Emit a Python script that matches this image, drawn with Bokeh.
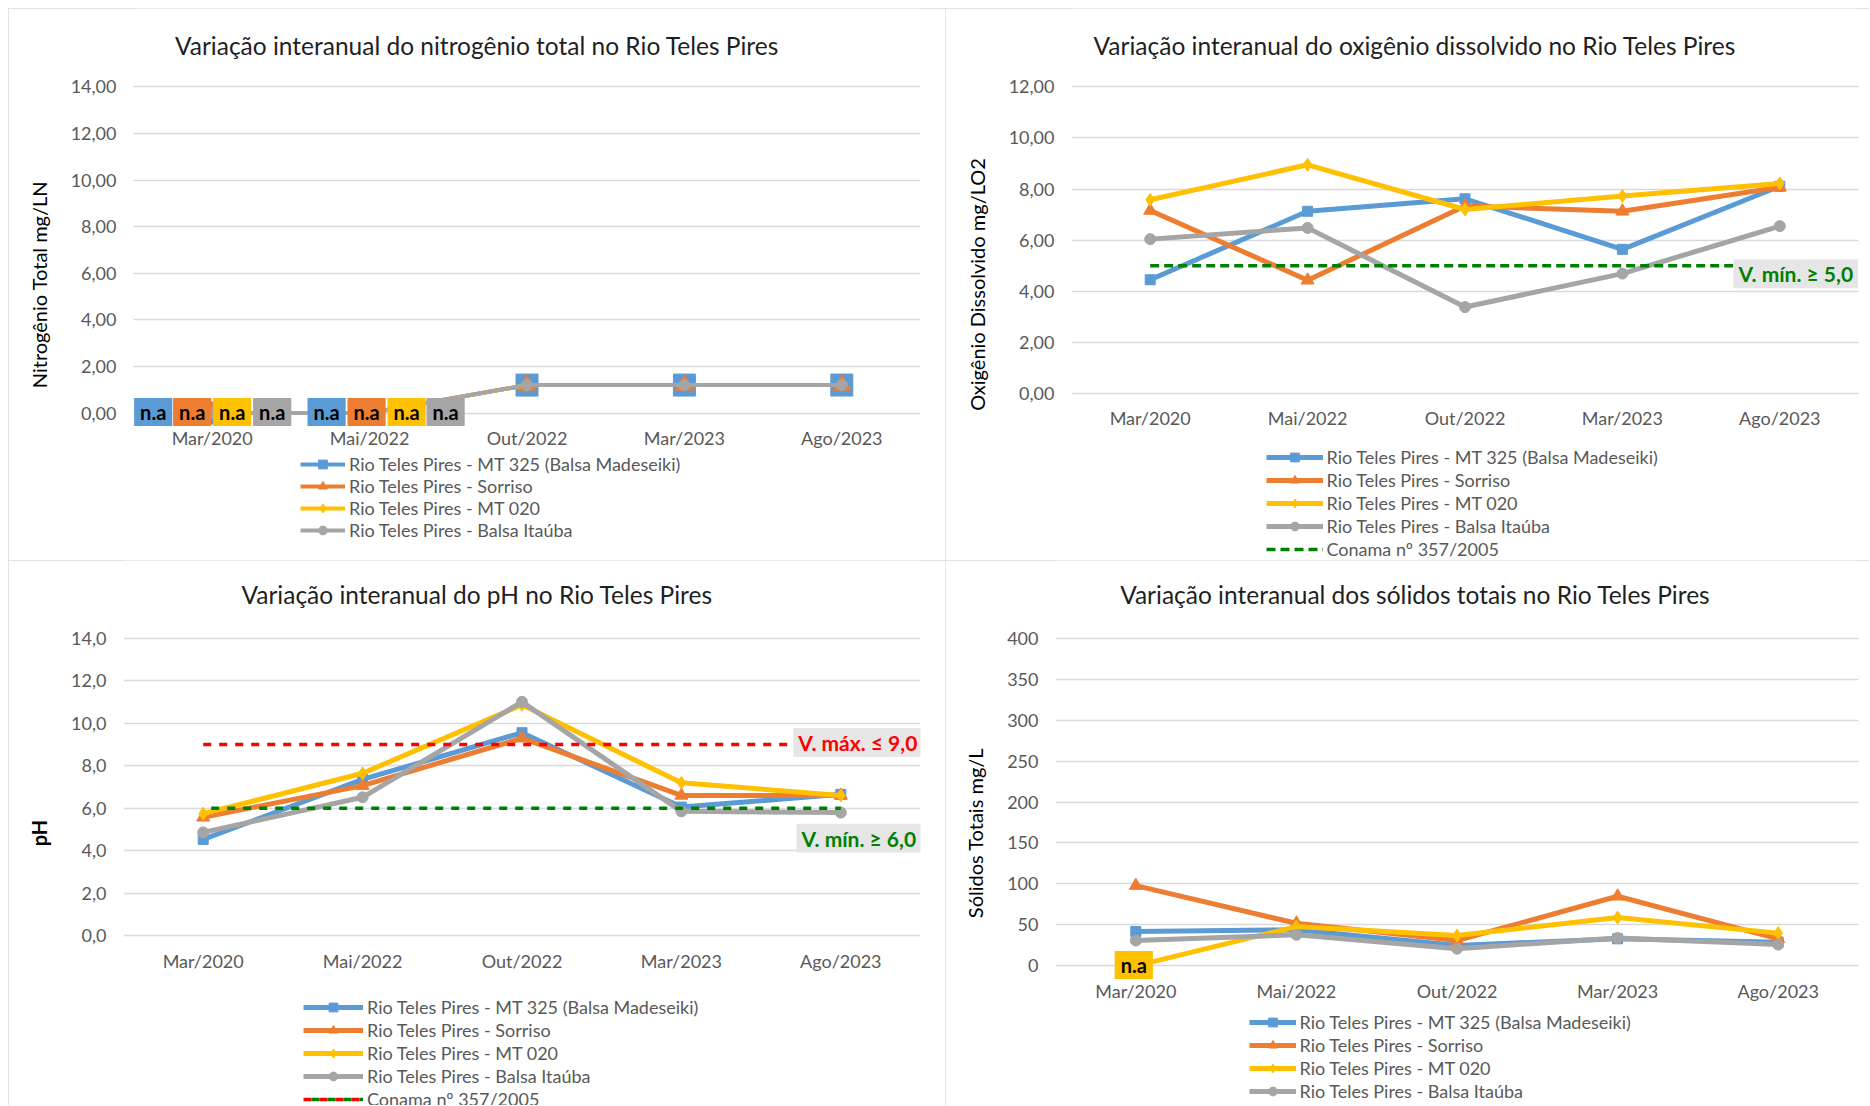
from bokeh.plotting import figure
from bokeh.models import FactorRange, Range1d, FixedTicker, Legend, LegendItem, Label
from bokeh.layouts import row, column
from bokeh.embed import file_html
from bokeh.resources import INLINE
from bokeh.core.properties import value

# ---------------- data ----------------
categories = ["Mar/2020", "Mai/2022", "Out/2022", "Mar/2023", "Ago/2023"]
series_names = [
    "Rio Teles Pires - MT 325 (Balsa Madeseiki)",
    "Rio Teles Pires - Sorriso",
    "Rio Teles Pires - MT 020",
    "Rio Teles Pires - Balsa Itaúba",
]
conama_name = "Conama nº 357/2005"

# Nitrogênio total (mg/L N) ; 0 where not analysed ("n.a")
nt_mt325 = [0.0, 0.0, 1.2, 1.2, 1.2]
nt_sorriso = [0.0, 0.0, 1.2, 1.2, 1.2]
nt_mt020 = [0.0, 0.0, 1.2, 1.2, 1.2]
nt_itauba = [0.0, 0.0, 1.2, 1.2, 1.2]
nt_na = [["Mar/2020", "Mai/2022"], ["Mar/2020", "Mai/2022"], ["Mar/2020", "Mai/2022"], ["Mar/2020", "Mai/2022"]]
nt_yticks = [0, 2, 4, 6, 8, 10, 12, 14]
nt_yticklabels = ["0,00", "2,00", "4,00", "6,00", "8,00", "10,00", "12,00", "14,00"]

# Oxigênio dissolvido (mg/L O2)
od_mt325 = [4.45, 7.13, 7.62, 5.64, 8.11]
od_sorriso = [7.16, 4.43, 7.34, 7.13, 8.07]
od_mt020 = [7.58, 8.95, 7.20, 7.73, 8.22]
od_itauba = [6.04, 6.48, 3.38, 4.69, 6.55]
od_conama = [5.0, 5.0, 5.0, 5.0, 5.0]
od_yticks = [0, 2, 4, 6, 8, 10, 12]
od_yticklabels = ["0,00", "2,00", "4,00", "6,00", "8,00", "10,00", "12,00"]

# pH
ph_mt325 = [4.53, 7.35, 9.55, 6.05, 6.65]
ph_sorriso = [5.57, 7.06, 9.29, 6.60, 6.60]
ph_mt020 = [5.74, 7.64, 10.86, 7.19, 6.60]
ph_itauba = [4.86, 6.51, 11.00, 5.85, 5.79]
ph_conama_max = [9.0, 9.0, 9.0, 9.0, 9.0]
ph_conama_min = [6.0, 6.0, 6.0, 6.0, 6.0]
ph_yticks = [0, 2, 4, 6, 8, 10, 12, 14]
ph_yticklabels = ["0,0", "2,0", "4,0", "6,0", "8,0", "10,0", "12,0", "14,0"]

# Sólidos totais (mg/L)
st_mt325 = [42, 44, 25, 33, 29]
st_sorriso = [98, 52, 31, 85, 33]
st_mt020 = [0, 48, 37, 59, 40]
st_itauba = [31, 38, 21, 34, 26]
st_na = [[], [], ["Mar/2020"], []]
st_yticks = [0, 50, 100, 150, 200, 250, 300, 350, 400]
st_yticklabels = ["0", "50", "100", "150", "200", "250", "300", "350", "400"]

# ---------------- style ----------------
FONT = "Lato"
COLORS = ["#5B9BD5", "#ED7D31", "#FFC000", "#A5A5A5"]
MARKERS = ["square", "triangle", "diamond", "circle"]
GRID = "#D9D9D9"
TXT = "#595959"
ROW_H = 22


class Chart:
    def __init__(self, fx, fy, w, h, fl, fr, ytop_px, yzero_px, ymax, yticks, yticklabels,
                 ytitle, ytitle_bold=False):
        self.fl, self.fr, self.yzero = fl, fr, yzero_px
        self.ppu = (yzero_px - ytop_px) / ymax
        self.catw = (fr - fl) / len(categories)
        self.fb = fy + h
        y0 = -(fy + h - yzero_px) / self.ppu
        y1 = (yzero_px - fy) / self.ppu
        p = figure(width=w, height=h, x_range=FactorRange(factors=categories),
                   y_range=Range1d(y0, y1), output_backend="svg",
                   toolbar_location=None, title=None, x_axis_location=None,
                   min_border=0, min_border_left=int(round(fl - fx)),
                   min_border_right=int(round(fx + w - fr)),
                   min_border_top=0, min_border_bottom=0)
        p.outline_line_color = None
        p.background_fill_color = "white"
        p.border_fill_color = "white"
        p.styles = {"outline": "1px solid #D9D9D9", "outline-offset": "-1px"}
        for g in p.xgrid:
            g.visible = False
        p.ygrid.grid_line_color = GRID
        p.ygrid.grid_line_width = 1.5
        p.yaxis.ticker = FixedTicker(ticks=yticks)
        p.ygrid.ticker = FixedTicker(ticks=yticks)
        p.yaxis.major_label_overrides = {t: l for t, l in zip(yticks, yticklabels)}
        ax = p.yaxis[0]
        ax.axis_line_color = None
        ax.major_tick_line_color = None
        ax.minor_tick_line_color = None
        ax.major_tick_out = 0
        ax.major_tick_in = 0
        ax.major_label_text_font = FONT
        ax.major_label_text_font_size = "18px"
        ax.major_label_text_color = TXT
        ax.major_label_standoff = 17
        ax.axis_label = ytitle
        ax.axis_label_text_font = FONT
        ax.axis_label_text_font_size = "20px"
        ax.axis_label_text_color = "#000000"
        ax.axis_label_text_font_style = "bold" if ytitle_bold else "normal"
        ax.axis_label_standoff = 17
        # category labels under the zero line
        p.text(x=categories, y=[0] * len(categories), text=categories, y_offset=25,
               text_align="center", text_baseline="middle", text_font=value(FONT),
               text_font_size=value("18px"), text_color=TXT)
        self.p = p

    def px_to_data(self, px, py):
        return (px - self.fl) / self.catw, (self.yzero - py) / self.ppu

    def title(self, text, cx, cy):
        x, y = self.px_to_data(cx, cy)
        self.p.add_layout(Label(x=x, y=y, text=text, text_font=FONT, text_font_size="24.5px",
                                text_color="#1F1F1F", text_align="center",
                                text_baseline="middle"))

    def series(self, data_list, line_w=5, msizes=(10, 13, 13, 11)):
        rends = []
        for vals, c, m, ms in zip(data_list, COLORS, MARKERS, msizes):
            lr = self.p.line(x=categories, y=vals, line_color=c, line_width=line_w)
            sr = self.p.scatter(x=categories, y=vals, marker=m, size=ms, fill_color=c, line_color=c)
            rends.append([lr, sr])
        return rends

    def legend(self, items, left, top, glyph_w, spacing):
        n = len(items)
        hh = n * ROW_H + (n - 1) * spacing
        leg = Legend(items=items, location=(left - self.fl, self.fb - (top + hh)),
                     orientation="vertical", glyph_width=glyph_w, glyph_height=ROW_H,
                     label_height=ROW_H, spacing=spacing, padding=0, margin=0,
                     border_line_color=None, background_fill_alpha=0,
                     label_text_font=FONT, label_text_font_size="18px",
                     label_text_color=TXT, label_standoff=4)
        self.p.add_layout(leg)

    def na(self, vals_list, na_list, offsets):
        for si, (vals, nas) in enumerate(zip(vals_list, na_list)):
            xs, ys, xo = [], [], []
            for cat in nas:
                i = categories.index(cat)
                xs.append(cat)
                ys.append(vals[i])
                xo.append(offsets[si][i])
            if xs:
                self.p.text(x=xs, y=ys, text=["n.a"] * len(xs), x_offset=xo, y_offset=-1,
                            text_align="center", text_baseline="middle",
                            text_font=value(FONT), text_font_style="bold",
                            text_font_size=value("20px"), text_color="#000000",
                            background_fill_color=COLORS[si], padding=(6, 2))

    def conama_label(self, yval, text, color, dx, dy):
        self.p.text(x=[categories[-1]], y=[yval], text=[text], x_offset=dx, y_offset=dy,
                    text_align="center", text_baseline="middle", text_font=value(FONT),
                    text_font_style="bold", text_font_size=value("21px"), text_color=color,
                    background_fill_color="#E7E6E6", padding=(5, 2))


# ---------------- chart 1: nitrogênio ----------------
c1 = Chart(8, 8, 937, 552, 133, 920, 86.4, 412.5, 14, nt_yticks, nt_yticklabels,
           "Nitrogênio Total mg/LN")
r1 = c1.series([nt_mt325, nt_sorriso, nt_mt020, nt_itauba], line_w=4, msizes=(22, 18, 12, 11))
c1.na([nt_mt325, nt_sorriso, nt_mt020, nt_itauba], nt_na,
      [[-59, -43, 0, 0, 0], [-20, -3, 0, 0, 0], [20, 37, 0, 0, 0], [60, 76, 0, 0, 0]])
c1.title("Variação interanual do nitrogênio total no Rio Teles Pires", 476.5, 45)
c1.legend([LegendItem(label=n, renderers=r) for n, r in zip(series_names, r1)], 300, 452.6, 45, 0)

# ---------------- chart 2: oxigênio ----------------
c2 = Chart(945, 8, 924, 552, 1070.5, 1858, 86.4, 392.9, 12, od_yticks, od_yticklabels,
           "Oxigênio Dissolvido mg/LO2")
r2 = c2.series([od_mt325, od_sorriso, od_mt020, od_itauba])
l2 = c2.p.line(x=categories, y=od_conama, line_color="#008000", line_width=3.5, line_dash="9 5")
c2.conama_label(od_conama[-1], "V. mín. ≥ 5,0", "#008000", 16, 8)
c2.title("Variação interanual do oxigênio dissolvido no Rio Teles Pires", 1414, 45)
c2.legend([LegendItem(label=n, renderers=r) for n, r in zip(series_names, r2)]
          + [LegendItem(label=conama_name, renderers=[l2])], 1265, 446, 57, 1)

# ---------------- chart 3: pH ----------------
c3 = Chart(8, 560, 937, 545, 123, 920, 637.6, 935.2, 14, ph_yticks, ph_yticklabels, "pH",
           ytitle_bold=True)
r3 = c3.series([ph_mt325, ph_sorriso, ph_mt020, ph_itauba])
l3a = c3.p.line(x=categories, y=ph_conama_max, line_color="#FF0000", line_width=3.5, line_dash="8 8")
l3b = c3.p.line(x=categories, y=ph_conama_min, line_color="#008000", line_width=3.5, line_dash="8 8",
                line_dash_offset=8)
c3.conama_label(ph_conama_max[-1], "V. máx. ≤ 9,0", "#FF0000", 17, -2)
c3.conama_label(ph_conama_min[-1], "V. mín. ≥ 6,0", "#008000", 18, 30)
c3.title("Variação interanual do pH no Rio Teles Pires", 476.6, 594.4)
c3.legend([LegendItem(label=n, renderers=r) for n, r in zip(series_names, r3)]
          + [LegendItem(label=conama_name, renderers=[l3a, l3b])], 303, 995.5, 60, 1)

# ---------------- chart 4: sólidos totais ----------------
c4 = Chart(945, 560, 924, 545, 1054.5, 1858, 637.6, 965.4, 400, st_yticks, st_yticklabels,
           "Sólidos Totais mg/L")
r4 = c4.series([st_mt325, st_sorriso, st_mt020, st_itauba])
c4.na([st_mt325, st_sorriso, st_mt020, st_itauba], st_na,
      [[0] * 5, [0] * 5, [-2, 0, 0, 0, 0], [0] * 5])
c4.title("Variação interanual dos sólidos totais no Rio Teles Pires", 1414.5, 594.4)
c4.legend([LegendItem(label=n, renderers=r) for n, r in zip(series_names, r4)], 1248, 1011.3, 47, 1)

layout = column(row(c1.p, c2.p), row(c3.p, c4.p), margin=(8, 0, 0, 8))
open("out.html", "w").write(file_html(layout, INLINE))
